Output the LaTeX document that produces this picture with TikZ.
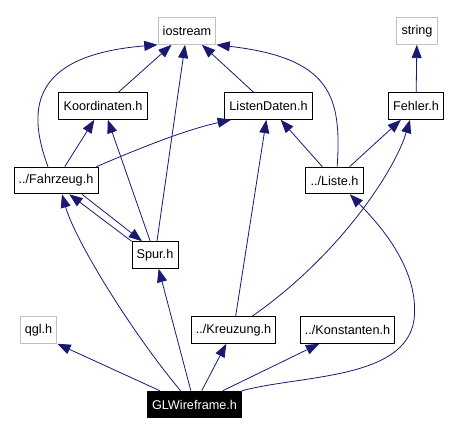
\documentclass[tikz,border=0pt]{standalone}
\usepackage{fontspec}
\setmainfont{Liberation Sans}
\usetikzlibrary{arrows.meta}
\definecolor{edgeblue}{RGB}{25,25,112}
\definecolor{extgray}{RGB}{192,192,192}

\begin{document}
\begin{tikzpicture}[x=0.75pt, y=-0.75pt, >={Triangle[length=10pt,width=7.5pt]}, hnode/.style={draw, rectangle, line width=0.7pt, minimum height=20pt, inner xsep=3.5pt, font=\fontsize{9.5}{11}\selectfont}, xnode/.style={hnode, draw=extgray}, mnode/.style={hnode, fill=black, text=white}]
    \useasboundingbox (0,0) rectangle (470,435);
    \node[xnode] (iostream) at (187,31) {iostream};
    \node[xnode] (string) at (417,31) {string};
    \node[hnode] (koord) at (103,106) {Koordinaten.h};
    \node[hnode] (ld) at (268.5,106) {ListenDaten.h};
    \node[hnode] (fehler) at (416,106) {Fehler.h};
    \node[hnode] (fz) at (56,180.5) {../Fahrzeug.h};
    \node[hnode] (liste) at (334.5,180.5) {../Liste.h};
    \node[hnode] (spur) at (155,255) {Spur.h};
    \node[xnode] (qgl) at (38.5,330) {qgl.h};
    \node[hnode] (kreuz) at (233.5,330) {../Kreuzung.h};
    \node[hnode] (konst) at (347.5,330) {../Konstanten.h};
    \node[mnode] (glw) at (194.5,404.5) {GLWireframe.h};

   \begin{scope}[color=edgeblue, line width=0.6pt]
    \draw[->] (koord) to (iostream);
    \draw[->] ([xshift=-6pt]fz.north) .. controls (25,105) and (35,55) .. (iostream.south west);
    \draw[->] (spur) to (iostream);
    \draw[->] (ld) to (iostream);
    \draw[->] ([xshift=2pt]liste.north) .. controls (342,95) and (330,58) .. (iostream.south east);
    \draw[->] (fehler) to (string);
    \draw[->] (fz) to (koord);
    \draw[->] (spur) to (koord);
    \draw[->] ([xshift=-1.5pt]fz.north east) .. controls (140,148) and (185,130) .. ([xshift=5pt]ld.south west);
    \draw[->] (liste) to (ld);
    \draw[->] (kreuz) to (ld);
    \draw[->] (liste) to (fehler);
    \draw[->] ([xshift=14pt]kreuz.north) .. controls (340,255) and (395,170) .. ([xshift=-4.5pt]fehler.south);
    \draw[->] (spur.north west) to ([xshift=10pt]fz.south);
    \draw[->] ([xshift=19.5pt]fz.south) to ([xshift=-9.75pt]spur.north);
    \draw[->] (glw.north east) .. controls (300,375) and (405,380) .. (414,320) .. controls (420,270) and (380,225) .. ([xshift=11.5pt]liste.south);
    \draw[->] (glw) to (kreuz);
    \draw[->] (glw) to (konst);
    \draw[->] ([xshift=-26pt]glw.north) to (qgl.south east);
    \draw[->] (glw) to (spur);
    \draw[->] ([xshift=-10.5pt]glw.north) .. controls (130,330) and (75,240) .. ([xshift=4.5pt]fz.south);
   \end{scope}
\end{tikzpicture}
\end{document}
